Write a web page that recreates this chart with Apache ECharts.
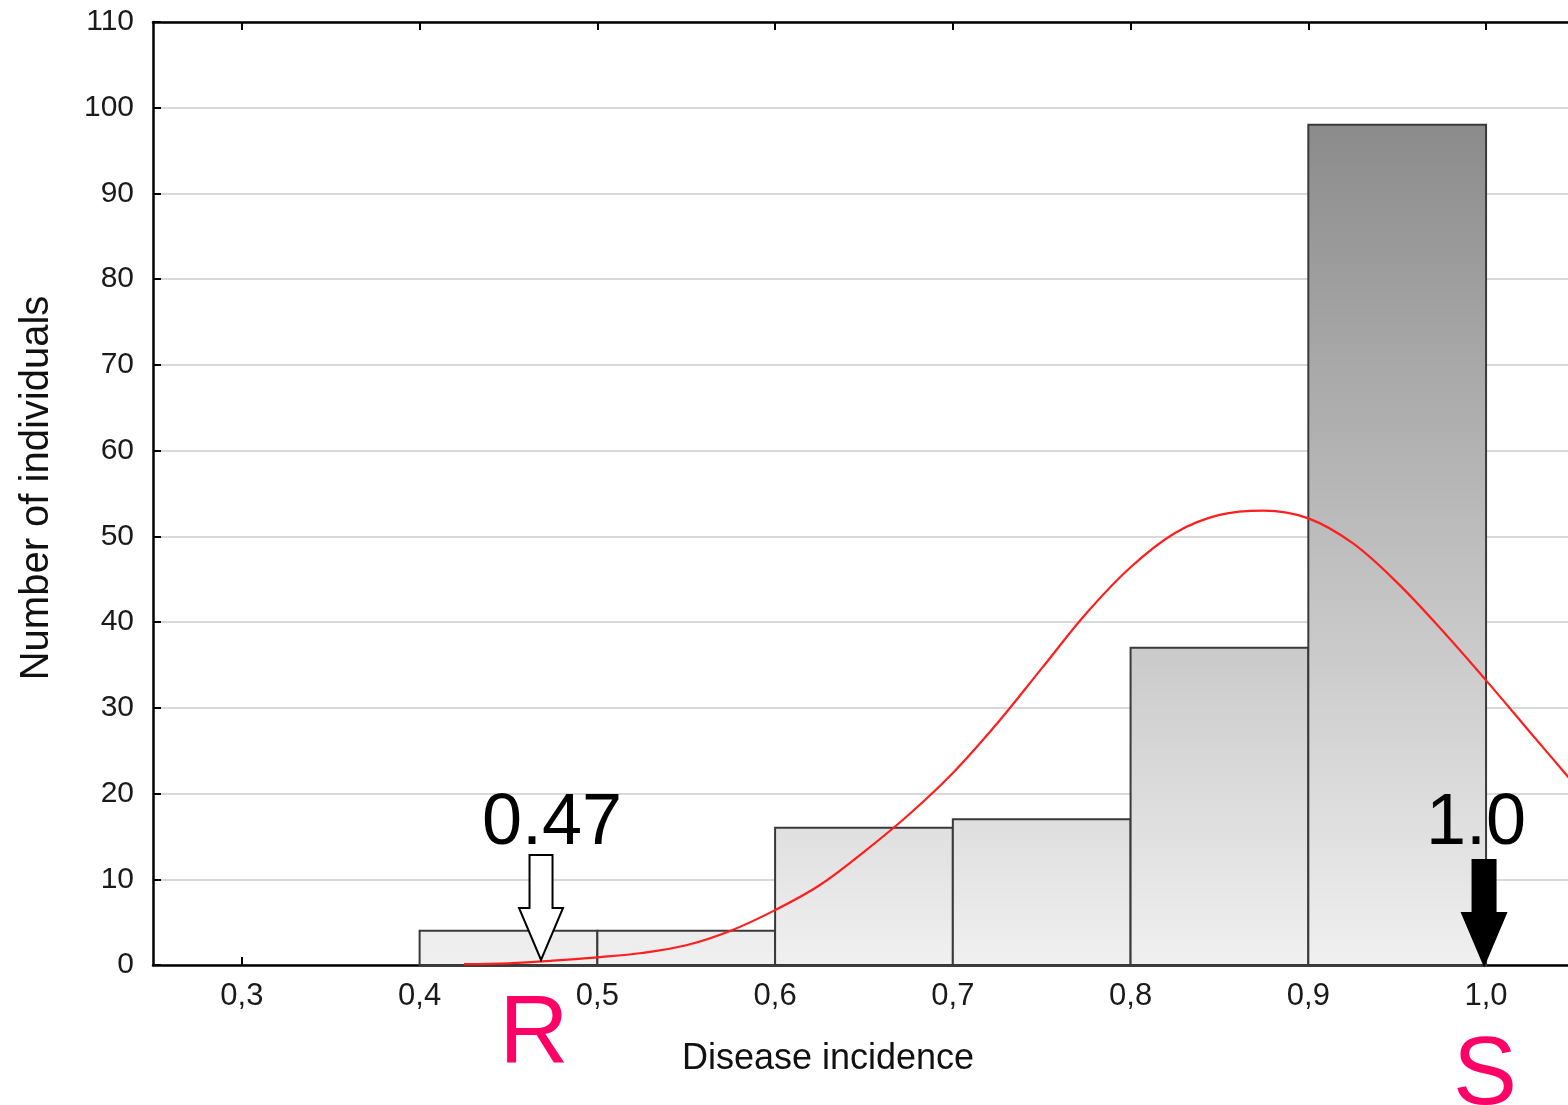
<!DOCTYPE html>
<html>
<head>
<meta charset="utf-8">
<script src="https://cdn.jsdelivr.net/npm/echarts@6/dist/echarts.min.js"></script>
<style>html,body{margin:0;padding:0;background:#fff}#c{width:1568px;height:1105px}</style>
</head>
<body>
<div id="c"></div>
<script>
// ---------- data ----------
const binStart = [0.4, 0.5, 0.6, 0.7, 0.8, 0.9];
const binEnd   = [0.5, 0.6, 0.7, 0.8, 0.9, 1.0];
const binCount = [4, 4, 16, 17, 37, 98];

const curveX = [0.425,0.45,0.475,0.5,0.525,0.55,0.575,0.6,0.625,0.65,0.675,0.7,0.725,0.75,0.775,0.8,0.825,0.85,0.875,0.9,0.925,0.95,0.975,1.0,1.025,1.05];
const curveY = [0.1,0.2,0.5,0.9,1.4,2.3,4.0,6.4,9.3,13.2,17.5,22.4,28.2,34.6,41.0,46.4,50.4,52.5,53.0,52.1,49.2,44.6,39.1,33.2,27.1,21.0];

const xTicks = [0.3,0.4,0.5,0.6,0.7,0.8,0.9,1.0];

const markerX     = [0.47, 1.0];
const markerText  = ['0.47', '1.0'];
const markerClass = ['R', 'S'];

// ---------- styles ----------
const FONT = "'Liberation Sans', Arial, sans-serif";
const markerStyle = [
  {fill:'#ffffff', tipDx:-3, tipDy:-5, textDx:8,  textDy:-177, clsDx:-10, clsDy:24},
  {fill:'#000000', tipDx:-2, tipDy:0,  textDx:-10, textDy:-177, clsDx:-1, clsDy:65}
];

const histData = binStart.map((s,i)=>[s, binEnd[i], binCount[i]]);
const curveData = curveX.map((x,i)=>[x, curveY[i]]);
const markerData = markerX.map((x,i)=>[x, i]);

const chart = echarts.init(document.getElementById('c'), null, {renderer:'canvas'});

const xFmt = v => v.toFixed(1).replace('.', ',');

const option = {
  animation: false,
  backgroundColor: '#ffffff',
  grid: {left:153, top:22, right:0, bottom:140, containLabel:false, outerBoundsMode:'none'},
  xAxis: [{
    type:'value', min:0.25, max:1.0461, position:'bottom',
    axisLine:{show:true, onZero:false, lineStyle:{color:'#000', width:2.5}},
    axisTick:{show:true, inside:true, length:8, customValues:xTicks, lineStyle:{color:'#000', width:2}},
    axisLabel:{show:true, customValues:xTicks, formatter:xFmt, margin:16, fontSize:31, color:'#1a1a1a', fontFamily:FONT},
    splitLine:{show:false}
  },{
    type:'value', min:0.25, max:1.0461, position:'top',
    axisLine:{show:true, onZero:false, lineStyle:{color:'#000', width:2.5}},
    axisTick:{show:true, inside:true, length:8, customValues:xTicks, lineStyle:{color:'#000', width:2}},
    axisLabel:{show:false},
    splitLine:{show:false}
  }],
  yAxis: {
    type:'value', min:0, max:110, interval:10,
    axisLine:{show:true, onZero:false, lineStyle:{color:'#000', width:2.5}},
    axisTick:{show:true, inside:true, length:8, lineStyle:{color:'#000', width:2}},
    axisLabel:{margin:19, fontSize:30, color:'#1a1a1a', fontFamily:FONT},
    splitLine:{show:true, lineStyle:{color:'#d9d9d9', width:2}}
  },
  graphic: [
    {type:'text', x:828, y:1059, style:{text:'Disease incidence', fontSize:36, fontFamily:FONT, fill:'#111', align:'center', verticalAlign:'middle'}},
    {type:'text', x:37, y:488, rotation:Math.PI/2, style:{text:'Number of individuals', fontSize:40, fontFamily:FONT, fill:'#111', align:'center', verticalAlign:'middle'}}
  ],
  series: [
    {
      type:'custom', name:'hist', z:2, clip:false,
      data: histData,
      renderItem: function(params, api){
        const x0 = api.value(0), x1 = api.value(1), v = api.value(2);
        const pTop = api.coord([x0, v]);
        const pBot = api.coord([x1, 0]);
        const gTop = api.coord([x0, 110])[1];
        const gBot = pBot[1];
        return {
          type:'rect',
          shape:{x:pTop[0], y:pTop[1], width:pBot[0]-pTop[0], height:pBot[1]-pTop[1]},
          style:{
            fill:{type:'linear', x:0, y:gTop, x2:0, y2:gBot, global:true,
                  colorStops:[{offset:0,color:'#7f7f7f'},{offset:1,color:'#f0f0f0'}]},
            stroke:'#3a3a3a', lineWidth:2
          }
        };
      }
    },
    {
      type:'line', name:'normal', z:4,
      data: curveData, smooth:0.35, showSymbol:false,
      lineStyle:{color:'#ff1e1e', width:2.2}
    },
    {
      type:'custom', name:'markers', z:6, clip:false,
      data: markerData,
      renderItem: function(params, api){
        const i = api.value(1);
        const st = markerStyle[i];
        const base = api.coord([api.value(0), 0]);
        const tx = base[0] + st.tipDx, ty = base[1] + st.tipDy;
        const sw = 11.5, hw = 22;
        return {
          type:'group',
          children:[
            {type:'polygon', shape:{points:[
              [tx-sw, ty-105],[tx+sw, ty-105],[tx+sw, ty-52],[tx+hw, ty-52],[tx, ty],[tx-hw, ty-52],[tx-sw, ty-52]
            ]}, style:{fill:st.fill, stroke:'#000', lineWidth:2}},
            {type:'text', x: base[0]+st.textDx, y: base[1]+st.textDy,
              style:{text:markerText[i], fontSize:72, fontFamily:FONT, fill:'#000', align:'center', verticalAlign:'top'}},
            {type:'text', x: base[0]+st.clsDx, y: base[1]+st.clsDy,
              style:{text:markerClass[i], fontSize:96, fontFamily:FONT, fill:'#ff0066', align:'center', verticalAlign:'top'}}
          ]
        };
      }
    }
  ]
};
chart.setOption(option);
</script>
</body>
</html>
